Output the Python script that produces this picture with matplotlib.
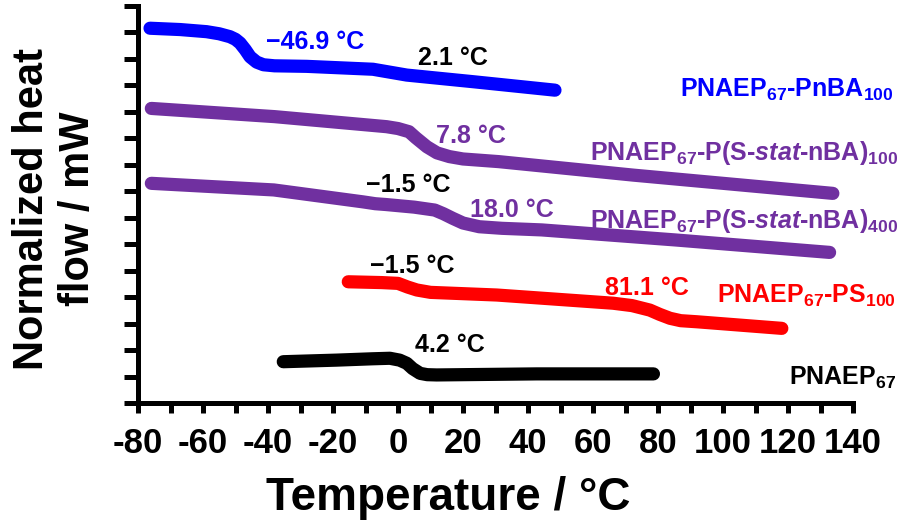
import matplotlib
matplotlib.use("Agg")
import matplotlib.pyplot as plt

plt.rcParams['font.family'] = ['Liberation Sans', 'DejaVu Sans']
plt.rcParams['font.weight'] = 'bold'
plt.rcParams['axes.unicode_minus'] = False
plt.rcParams['mathtext.fontset'] = 'custom'
plt.rcParams['mathtext.rm'] = 'Liberation Sans:bold'
plt.rcParams['mathtext.it'] = 'Liberation Sans:bold:italic'
plt.rcParams['mathtext.bf'] = 'Liberation Sans:bold'

# DSC traces (temperature in degC, offset heat flow in arbitrary units)
t_pnba = [-76.3, -67.0, -58.9, -55.0, -51.7, -50.0, -48.6, -47.0, -45.5, -43.5,
          -41.4, -38.0, -28.1, -7.7, 2.7, 23.1, 48.3]
h_pnba = [14.16, 14.11, 14.03, 13.95, 13.84, 13.74, 13.60, 13.35, 13.08, 12.88,
          12.78, 12.74, 12.72, 12.61, 12.39, 12.14, 11.82]

t_stat100 = [-75.9, -38.0, -3.5, 0.0, 3.4, 5.5, 8.9, 12.0, 15.8, 20.0, 31.0, 72.4, 133.8]
h_stat100 = [11.13, 10.82, 10.44, 10.37, 10.25, 10.02, 9.68, 9.45, 9.31, 9.22, 9.12, 8.61, 7.92]

t_stat400 = [-75.9, -38.2, -10.8, -7.0, -3.8, 5.0, 11.3, 14.0, 16.8, 20.0, 25.0, 32.0,
             44.2, 85.4, 132.8]
h_stat400 = [8.30, 8.05, 7.60, 7.53, 7.50, 7.40, 7.29, 7.15, 6.98, 6.80, 6.66, 6.60,
             6.54, 6.16, 5.69]

t_ps = [-15.3, -5.0, 0.0, 3.0, 5.8, 10.0, 30.4, 66.2, 72.0, 77.5, 80.5, 83.7, 87.0,
        91.9, 118.1]
h_ps = [4.58, 4.55, 4.52, 4.38, 4.27, 4.18, 4.08, 3.77, 3.68, 3.51, 3.35, 3.20, 3.11,
        3.07, 2.82]

t_pnaep = [-35.3, -18.9, -8.0, -2.5, 0.5, 2.7, 4.5, 6.8, 9.0, 11.9, 42.7, 78.6]
h_pnaep = [1.56, 1.62, 1.67, 1.69, 1.62, 1.50, 1.30, 1.12, 1.07, 1.06, 1.10, 1.10]

# Tg annotations: text, x, y, colour
tg_text = ['\u221246.9 \u00b0C', '2.1 \u00b0C', '7.8 \u00b0C', '\u22121.5 \u00b0C',
           '18.0 \u00b0C', '\u22121.5 \u00b0C', '81.1 \u00b0C', '4.2 \u00b0C']
tg_x = [-40.6, 6.25, 11.7, -9.7, 22.0, -8.6, 63.7, 5.2]
tg_y = [13.36, 12.77, 9.81, 7.98, 7.04, 4.90, 4.08, 1.94]
tg_col = ['#0000FF', 'black', '#7030A0', 'black', '#7030A0', 'black', '#FF0000', 'black']

names = [r'PNAEP$_{67}$-PnBA$_{100}$',
         r'PNAEP$_{67}$-P(S-$\mathit{stat}$-nBA)$_{100}$',
         r'PNAEP$_{67}$-P(S-$\mathit{stat}$-nBA)$_{400}$',
         r'PNAEP$_{67}$-PS$_{100}$',
         r'PNAEP$_{67}$']
name_x = [152.5, 153.8, 153.8, 153.2, 153.2]
name_y = [11.56, 9.18, 6.61, 3.79, 0.68]
colors = ['#0000FF', '#7030A0', '#7030A0', '#FF0000', 'black']

fig = plt.figure(figsize=(9.01, 5.26), dpi=100)
ax = fig.add_axes([138/901, 123/526, 715/901, 397/526])

curves = [(t_pnba, h_pnba), (t_stat100, h_stat100), (t_stat400, h_stat400),
          (t_ps, h_ps), (t_pnaep, h_pnaep)]
for (t, h), c in zip(curves, colors):
    ax.plot(t, h, color=c, lw=9.5, solid_capstyle='round', solid_joinstyle='round')

for s, x, y, c in zip(tg_text, tg_x, tg_y, tg_col):
    ax.text(x, y, s, color=c, fontsize=18, fontweight='bold', ha='left', va='baseline')

for s, x, y, c in zip(names, name_x, name_y, colors):
    ax.text(x, y, s, color=c, fontsize=18, fontweight='bold', ha='right', va='baseline',
            clip_on=False)

ax.set_xlim(-80, 140)
ax.set_ylim(0, 15)
ax.set_xticks(range(-80, 141, 10))
ax.set_xticklabels([str(v) if v % 20 == 0 else '' for v in range(-80, 141, 10)])
ax.set_yticks(range(0, 16))
ax.set_yticklabels([])
for sp in ['top', 'right']:
    ax.spines[sp].set_visible(False)
for sp in ['left', 'bottom']:
    ax.spines[sp].set_linewidth(3.6)
ax.tick_params(axis='x', length=7, width=3.6, labelsize=25, pad=10)
ax.tick_params(axis='y', length=10, width=3.6)

fig.text(448/901, 16/526, 'Temperature / \u00b0C', fontsize=33, fontweight='bold',
         ha='center', va='baseline')
fig.text(55/901, 317/526, 'Normalized heat\nflow / mW', fontsize=30, fontweight='bold',
         ha='center', va='center', rotation=90, multialignment='center')

fig.savefig('out.png', dpi=100)
